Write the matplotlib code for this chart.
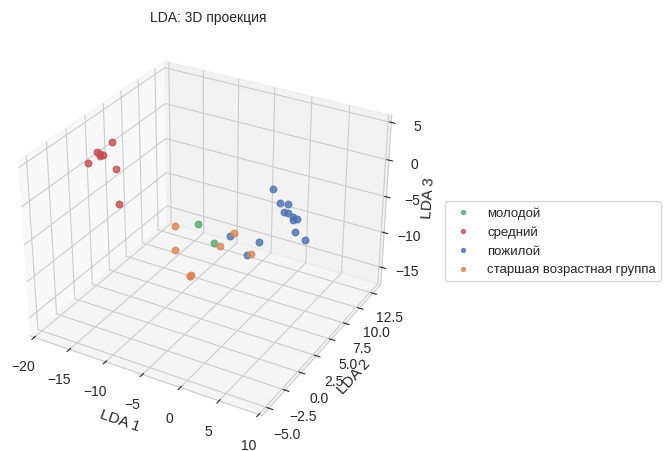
import numpy as np
import matplotlib.pyplot as plt
import seaborn as sns

sns.set_style("whitegrid")
plt.rcParams['font.family'] = ['Liberation Sans', 'DejaVu Sans']

# LDA scores per group (LDA 1, LDA 2, LDA 3)
groups = ["молодой", "средний", "пожилой", "старшая возрастная группа"]
colors = ["#55a868", "#c44e52", "#4c72b0", "#dd8452"]

young_x = [-6.7, -4.5]
young_y = [4.0, 4.0]
young_z = [-5.9, -7.9]

middle_x = [-17.5, -18.2, -18.0, -18.4, -18.3, -18.8, -16.0, -16.8]
middle_y = [3.0, 2.0, 2.2, 1.8, 2.1, 1.0, 2.0, 3.0]
middle_z = [2.9, 1.8, 1.6, 2.1, 1.4, 1.1, 0.4, -5.3]

old_x = [-0.9, 0.1, 0.3, 0.6, 0.4, 1.0, 0.7, 1.6, 0.6, 1.3, -4.1, -1.0, -1.8]
old_y = [9.0, 9.0, 10.0, 9.0, 10.0, 10.0, 10.5, 10.0, 11.0, 12.0, 6.0, 7.0, 6.0]
old_z = [-3.3, -5.0, -5.8, -6.1, -7.0, -7.4, -8.3, -7.5, -10.4, -12.2, -8.4, -9.2, -10.4]

senior_x = [-10.9, -2.8, -3.7, -9.0, -0.4, -7.0, -6.8, -7.1]
senior_y = [5.0, 5.0, 4.0, 3.0, 5.0, 3.0, 3.0, 3.1]
senior_z = [-8.2, -6.9, -8.1, -9.5, -9.0, -12.4, -12.2, -12.6]

data = [(young_x, young_y, young_z), (middle_x, middle_y, middle_z),
        (old_x, old_y, old_z), (senior_x, senior_y, senior_z)]

fig = plt.figure(figsize=(6.66, 4.52), dpi=100)
ax = fig.add_axes([-0.026, 0.03, 0.666, 0.91], projection='3d')
ax.set_proj_type('persp', focal_length=0.7)

for (xs, ys, zs), name, c in zip(data, groups, colors):
    ax.scatter(xs, ys, zs, c=c, s=22, alpha=0.8, label=name, depthshade=False)

ax.set_xlim(-20.6, 10.4)
ax.set_ylim(-6.0, 14.0)
ax.set_zlim(-17.5, 5.9)
ax.set_xticks([-20, -15, -10, -5, 0, 5, 10])
ax.set_yticks([-5.0, -2.5, 0.0, 2.5, 5.0, 7.5, 10.0, 12.5])
ax.set_zticks([-15, -10, -5, 0, 5])

ax.set_xlabel("LDA 1", fontsize=11, labelpad=2)
ax.set_ylabel("LDA 2", fontsize=11, labelpad=-2)
ax.set_zlabel("LDA 3", fontsize=11, labelpad=-2)
ax.tick_params(labelsize=10)

fig.text(0.312, 0.96, "LDA: 3D проекция", fontsize=10, ha='center', va='center')

ax.legend(loc='center left', bbox_to_anchor=(0.658, 0.465),
          bbox_transform=fig.transFigure, fontsize=9.5,
          markerscale=0.6, labelspacing=0.5)

plt.savefig("out.png", dpi=100)
